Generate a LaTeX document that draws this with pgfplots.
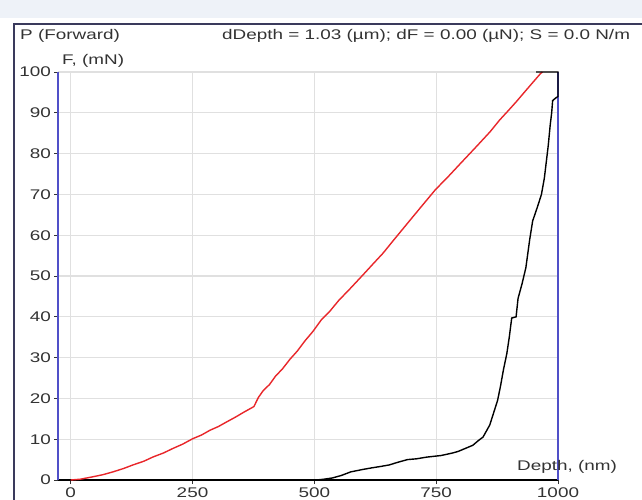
\documentclass[border=0pt]{standalone}
\usepackage{fontspec}
\setmainfont{Liberation Sans}[FakeStretch=1.35]
\usepackage{pgfplots}
\pgfplotsset{compat=1.18}
\definecolor{axblue}{HTML}{5050C8}
\definecolor{curvered}{HTML}{E8262A}
\definecolor{gridgray}{HTML}{E0E0E0}
\definecolor{txt}{HTML}{333333}
\definecolor{band}{HTML}{EEF2F8}
\definecolor{frame}{HTML}{3A3A5C}

\begin{document}
\begin{tikzpicture}[x=1pt, y=1pt]
\useasboundingbox (0,0) rectangle (642,499);
\fill[band] (0,481) rectangle (642,499);
\begin{axis}[
  at={(58.5pt,19pt)}, anchor=south west, scale only axis,
  width=499.5pt, height=408pt,
  xmin=-25, xmax=1000, ymin=0, ymax=100,
  axis x line*=bottom, axis y line*=left,
  x axis line style={black, line width=1.5pt},
  y axis line style={axblue, line width=2pt},
  xtick={0,250,500,750,1000}, ytick={0,10,...,100},
  grid=major, grid style={gridgray, line width=1.2pt},
  tick align=outside, major tick length=4pt,
  tick style={txt, line width=1pt},
  ticklabel style={font=\fontsize{14}{16}\selectfont, text=txt},
  /pgf/number format/assume math mode=true,
  /pgf/number format/1000 sep={},
  clip=false,
]
\draw[axblue, line width=2pt] (axis cs:1000,0) -- (axis cs:1000,100);
% loading (forward)
\addplot[curvered, line width=1.4pt, no markers] coordinates {
  (0,0) (20,0.2) (46,0.8) (66,1.3) (87,2.0) (108,2.8) (128,3.7) (150,4.6)
  (170,5.7) (190,6.6) (211,7.8) (230,8.8) (250,10.1) (268,11.0) (286,12.2)
  (303,13.1) (321,14.3) (338,15.4) (355,16.6) (370,17.6) (376,18.0)
  (385,20.2) (395,21.9) (408,23.4) (420,25.4) (435,27.3) (450,29.6)
  (465,31.6) (480,34.0) (497,36.4) (514,39.2) (532,41.4) (550,44.0)
  (575,47.1) (600,50.3) (620,52.9) (641,55.6) (660,58.4) (680,61.3)
  (700,64.2) (725,67.8) (748,71.1) (775,74.4) (800,77.6) (830,81.4)
  (861,85.4) (880,88.2) (900,90.8) (915,92.8) (930,94.9) (948,97.4)
  (964,99.6) (968,100)
};
% unloading
\addplot[black, line width=1.4pt, no markers] coordinates {
  (955,100) (1000,100) (1000,94) (995,93.6) (989,93) (987,90)
  (984,87) (980,82) (976,78) (972,74) (966,70) (958,67) (948,63.5)
  (942,59) (934,52) (926,48) (918,44.5) (914,40) (905,39.7) (900,35)
  (895,31) (888,27) (882,23) (876,19.5) (868,16.5) (860,13.5)
  (854,12.2) (846,10.5) (838,9.8) (825,8.5) (811,7.8) (795,7.0)
  (783,6.6) (760,6.0) (730,5.6) (710,5.2) (691,5.0) (670,4.3)
  (654,3.7) (635,3.3) (619,3.0) (600,2.6) (575,2.0) (555,1.1)
  (537,0.5) (520,0.2) (505,0)
};
\end{axis}
\draw[frame, line width=1.5pt] (642,475) -- (14,475) -- (14,-1);
\begin{scope}[every node/.style={font=\fontsize{14}{16}\selectfont, text=txt, inner sep=0pt}]
\node[anchor=west] at (20,463) {P (Forward)};
\node[anchor=west] at (62,438) {F, (mN)};
\node[anchor=west] at (222,463) {dDepth = 1.03 (µm); dF = 0.00 (µN); S = 0.0 N/m};
\node[anchor=west] at (517,32) {Depth, (nm)};
\end{scope}
\end{tikzpicture}
\end{document}
